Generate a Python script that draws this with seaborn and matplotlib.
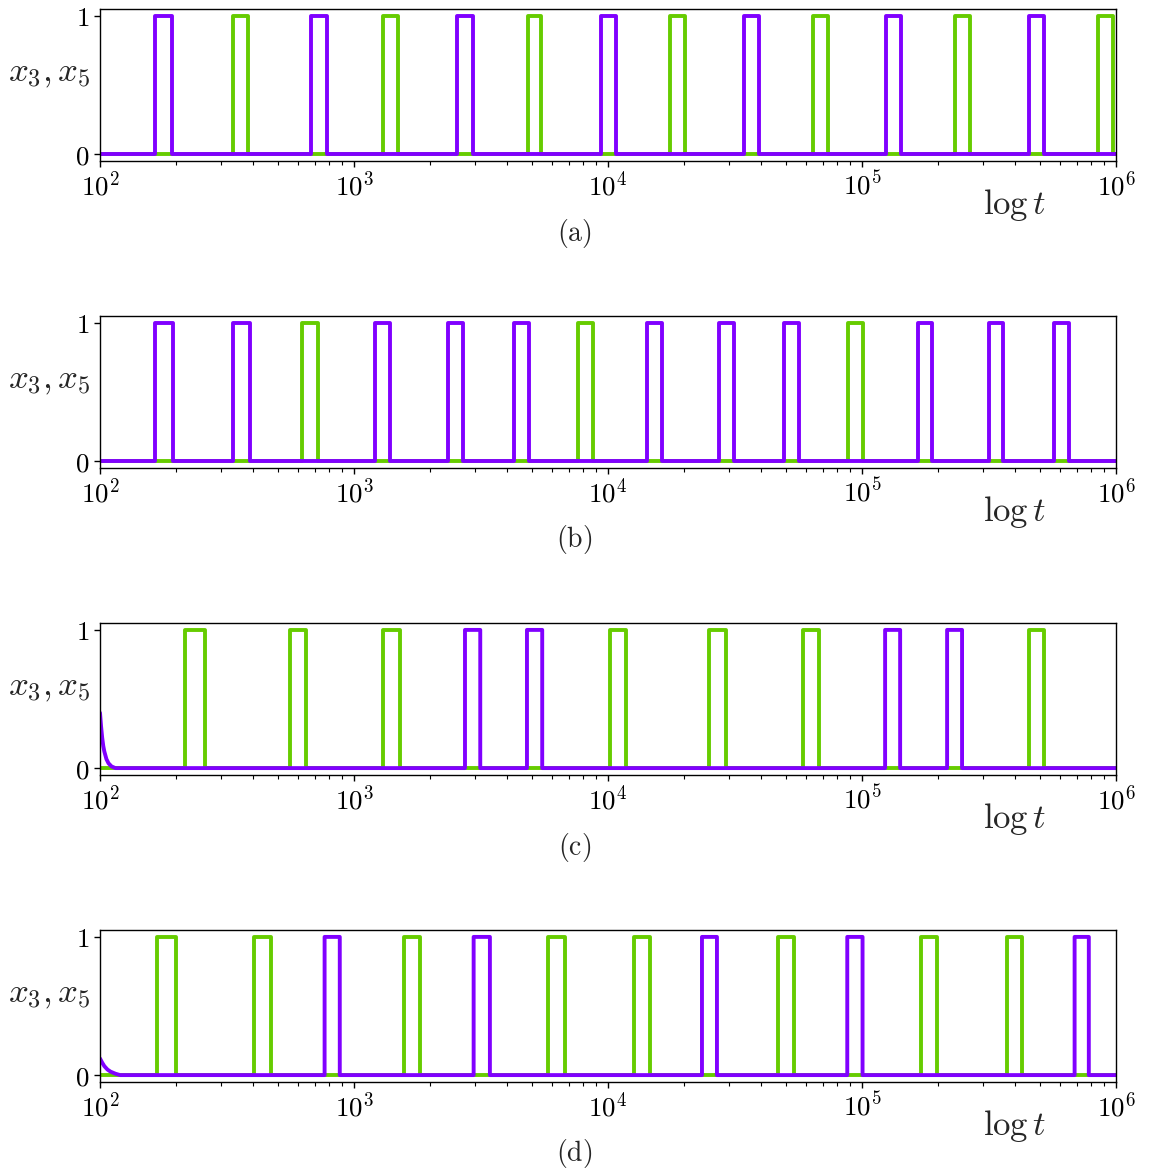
import matplotlib
matplotlib.use("Agg")
import matplotlib.pyplot as plt
import numpy as np
import seaborn as sns
from matplotlib.ticker import LogLocator, NullFormatter

# ---- pulse data: switch-on / switch-off times of x3 (green) and x5 (purple) ----
# panel (a)
a_green_on = [333, 1300, 4840, 17500, 64000, 233000, 849000]
a_green_off = [383, 1490, 5470, 20100, 73600, 267000, 973000]
a_purple_on = [165, 676, 2550, 9420, 34300, 124000, 453000]
a_purple_off = [192, 783, 2950, 10800, 39300, 142600, 522000]

# panel (b)
b_green_on = [625, 7600, 88100]
b_green_off = [719, 8730, 101200]
b_purple_on = [165, 333, 1211, 2340, 4266, 14290, 27230, 49430, 165600, 316200, 570200]
b_purple_off = [194, 388, 1380, 2685, 4898, 16330, 31260, 56620, 188400, 359700, 653100]

# panel (c)
c_green_on = [217, 558, 1306, 10190, 25060, 58610, 452900]
c_green_off = [258, 649, 1524, 11720, 29240, 67760, 522400]
c_purple_on = [2735, 4797, 123300, 216300]
c_purple_off = [3141, 5508, 141300, 247700]
# initial relaxation of x5 in panel (c)
c_purple_head_t = [100, 101, 102, 103, 104, 106, 108, 111, 115]
c_purple_head_v = [0.40, 0.30, 0.22, 0.16, 0.12, 0.065, 0.035, 0.012, 0.0]

# panel (d)
d_green_on = [167.5, 405.5, 1570, 5821, 12710, 46880, 171400, 372400]
d_green_off = [199, 471, 1816, 6745, 14660, 53950, 196800, 426600]
d_purple_on = [766, 2958, 23440, 87500, 687100]
d_purple_off = [879, 3428, 26850, 100500, 781600]
# initial relaxation of x5 in panel (d)
d_purple_head_t = [100, 102, 104, 107, 110, 115, 120]
d_purple_head_v = [0.12, 0.09, 0.065, 0.04, 0.025, 0.01, 0.0]

panel_tags = ["(a)", "(b)", "(c)", "(d)"]
x_ticks = [1e2, 1e3, 1e4, 1e5, 1e6]
x_tick_labels = [r"$10^{2}$", r"$10^{3}$", r"$10^{4}$", r"$10^{5}$", r"$10^{6}$"]

GREEN = "#66cc00"
PURPLE = "#8000ff"
T_START, T_END = 1e2, 1e6


def pulse_trace(on, off, head_t=None, head_v=None):
    """Build a rectangular-pulse trace from on/off times."""
    if head_t is None:
        ts, vs = [T_START], [0.0]
    else:
        ts, vs = list(head_t), list(head_v)
    for t0, t1 in zip(on, off):
        ts += [t0, t0, t1, t1]
        vs += [0.0, 1.0, 1.0, 0.0]
    ts.append(T_END)
    vs.append(0.0)
    return np.array(ts, dtype=float), np.array(vs, dtype=float)


panels = [
    (pulse_trace(a_green_on, a_green_off), pulse_trace(a_purple_on, a_purple_off)),
    (pulse_trace(b_green_on, b_green_off), pulse_trace(b_purple_on, b_purple_off)),
    (pulse_trace(c_green_on, c_green_off),
     pulse_trace(c_purple_on, c_purple_off, c_purple_head_t, c_purple_head_v)),
    (pulse_trace(d_green_on, d_green_off),
     pulse_trace(d_purple_on, d_purple_off, d_purple_head_t, d_purple_head_v)),
]

sns.set_theme(style="ticks")
plt.rcParams.update({
    "font.family": ["DejaVu Serif"],
    "mathtext.fontset": "cm",
    "axes.linewidth": 1.0,
    "xtick.major.size": 4.0,
    "xtick.minor.size": 2.8,
    "ytick.major.size": 4.0,
    "xtick.major.width": 1.0,
    "xtick.minor.width": 0.8,
    "ytick.major.width": 1.0,
    "axes.edgecolor": "black",
    "xtick.color": "black",
    "ytick.color": "black",
    "lines.solid_joinstyle": "round",
    "lines.solid_capstyle": "round",
})

W, H = 1149, 1170
fig = plt.figure(figsize=(W / 100, H / 100), dpi=100)

LEFT, RIGHT = 100, 1116
TOP0, BOT0 = 9, 161
STEP = 307

for k, ((tg, yg), (tp, yp)) in enumerate(panels):
    top = TOP0 + STEP * k
    bot = BOT0 + STEP * k
    ax = fig.add_axes([LEFT / W, 1 - bot / H, (RIGHT - LEFT) / W, (bot - top) / H])
    sns.lineplot(x=tg, y=yg, ax=ax, color=GREEN, lw=2.8, estimator=None, sort=False)
    sns.lineplot(x=tp, y=yp, ax=ax, color=PURPLE, lw=2.8, estimator=None, sort=False)

    ax.set_xscale("log")
    ax.set_xlim(T_START, T_END)
    ax.set_ylim(-0.05, 1.05)
    ax.set_xticks(x_ticks)
    ax.set_xticklabels(x_tick_labels, fontsize=19.5)
    ax.xaxis.set_minor_locator(LogLocator(base=10, subs=np.arange(2, 10)))
    ax.xaxis.set_minor_formatter(NullFormatter())
    ax.set_yticks([0, 1])
    ax.set_yticklabels([r"$0$", r"$1$"], fontsize=19.5)
    ax.set_xlabel("")
    ax.set_ylabel(r"$x_3, x_5$", rotation=0, fontsize=25, ha="right", va="center")
    ax.yaxis.set_label_coords(-9 / (RIGHT - LEFT), 0.58)
    for side in ["top", "right", "bottom", "left"]:
        ax.spines[side].set_visible(True)

    fig.text(1014 / W, 1 - (205 + STEP * k) / H, r"$\log t$",
             ha="center", va="center", fontsize=25)
    fig.text(0.5, 1 - (233 + STEP * k) / H, r"$\mathrm{" + panel_tags[k] + "}$",
             ha="center", va="center", fontsize=20)

fig.savefig("out.png", dpi=100)
